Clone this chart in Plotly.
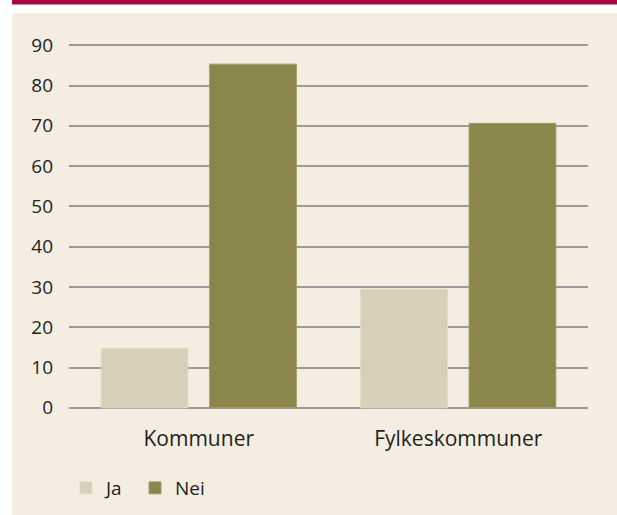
import plotly.graph_objects as go

categories = ["Kommuner", "Fylkeskommuner"]
ja_values = [14.7, 29.4]
nei_values = [85.3, 70.6]
y_ticks = [0, 10, 20, 30, 40, 50, 60, 70, 80, 90]

W, H = 617, 515
# plot area in pixels
PL, PR = 69, 588
PT, PB = 44, 409.5

def px_x(px):
    return (px - PL) / (PR - PL)

def px_y(py):
    return (PB - py) / (PB - PT)

FONT = "Open Sans"
TXT = "#231f20"

fig = go.Figure()
fig.add_trace(go.Bar(name="Ja", x=categories, y=ja_values,
                     marker=dict(color="#d8cfb8", line=dict(color="#e2dac6", width=1))))
fig.add_trace(go.Bar(name="Nei", x=categories, y=nei_values,
                     marker=dict(color="#8b864b", line=dict(color="#a29d66", width=1))))

shapes = [
    dict(type="rect", xref="paper", yref="paper", layer="below",
         x0=px_x(12), x1=px_x(W + 2), y0=px_y(13), y1=px_y(H + 2),
         fillcolor="#f4ede1", line=dict(width=0)),
    dict(type="rect", xref="paper", yref="paper", layer="below",
         x0=px_x(12), x1=px_x(W + 2), y0=px_y(-2), y1=px_y(4.5),
         fillcolor="#a60a3d", line=dict(width=0)),
]

fig.update_layout(
    width=W, height=H,
    margin=dict(l=PL, r=W - PR, t=PT, b=H - PB, pad=0, autoexpand=False),
    paper_bgcolor="white",
    plot_bgcolor="rgba(0,0,0,0)",
    barmode="group",
    bargap=0.164,
    bargroupgap=0.2,
    font=dict(family=FONT, size=18, color=TXT),
    shapes=shapes,
    showlegend=True,
    legend=dict(orientation="h", xref="container", yref="container",
                x=66 / W, xanchor="left",
                y=1 - 488 / H, yanchor="middle",
                font=dict(family=FONT, size=19, color=TXT),
                bgcolor="rgba(0,0,0,0)", traceorder="normal",
                itemwidth=30,
                entrywidth=24, entrywidthmode="pixels"),
    xaxis=dict(showgrid=False, showline=False, zeroline=False, ticks="",
               tickfont=dict(family=FONT, size=21, color=TXT),
               ticklabelstandoff=15),
    yaxis=dict(range=[-0.3, 90.3], tickvals=y_ticks, ticktext=[str(v) for v in y_ticks],
               showgrid=True, gridcolor="#9a9a9a", gridwidth=2,
               zeroline=False, showline=False, ticks="",
               tickfont=dict(family=FONT, size=19, color=TXT),
               ticklabelstandoff=15),
)

fig.write_html("out.html", config={"displayModeBar": False},
               post_script="document.body.style.margin='0';document.body.style.padding='0';")
